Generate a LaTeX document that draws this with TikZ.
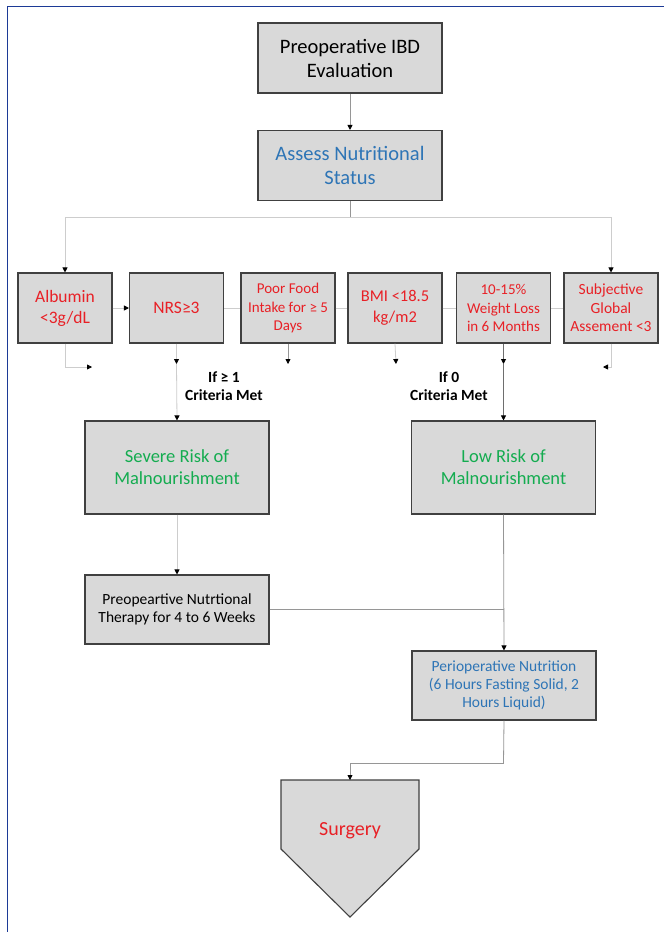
\documentclass[tikz,border=0pt]{standalone}
\usepackage{fontspec}
\setmainfont{Carlito}
\usetikzlibrary{arrows.meta}
\definecolor{boxfill}{RGB}{217,217,217}
\definecolor{boxdraw}{RGB}{64,64,64}
\definecolor{tred}{RGB}{232,32,38}
\definecolor{tblue}{RGB}{46,117,182}
\definecolor{tgreen}{RGB}{20,172,80}
\definecolor{frameblue}{RGB}{28,58,150}
\definecolor{lline}{RGB}{205,205,205}
\definecolor{mline}{RGB}{150,150,150}
\definecolor{dline}{RGB}{110,110,110}
\begin{document}
\begin{tikzpicture}[x=1pt,y=-1pt,
  box/.style={draw=boxdraw,fill=boxfill,line width=1.1pt,inner sep=0pt,align=center},
  bigbox/.style={box,minimum width=184pt,minimum height=70pt,font=\fontsize{20.5}{24}\selectfont},
  critbox/.style={box,minimum width=94pt,minimum height=70pt,text=tred,font=\fontsize{15}{18.5}\selectfont},
  critbig/.style={critbox,font=\fontsize{17.5}{21}\selectfont},
  riskbox/.style={box,minimum width=184pt,minimum height=93pt,text=tgreen,font=\fontsize{18.5}{22}\selectfont},
  stepbox/.style={box,minimum width=184pt,minimum height=69pt,font=\fontsize{15.5}{18.3}\selectfont},
  lbl/.style={font=\bfseries\fontsize{15.5}{18}\selectfont,align=center,inner sep=0pt},
  tip/.style={-{Triangle[length=5pt,width=5pt,color=black]}},
  light/.style={draw=lline,line width=0.8pt},
  mid/.style={draw=mline,line width=0.8pt},
  dark/.style={draw=dline,line width=0.9pt}]
\useasboundingbox (0,0) rectangle (664,932);
\fill[white] (0,0) rectangle (664,932);
\draw[frameblue,line width=1.5pt] (7.5,932) -- (7.5,6.5) -- (664,6.5);

% main boxes
\node[bigbox] (eval) at (350,58) {Preoperative IBD\\Evaluation};
\node[bigbox,text=tblue] (assess) at (350,165.5) {Assess Nutritional\\Status};

% criteria
\node[critbig] (alb) at (65,308) {Albumin\\<3g/dL};
\node[critbig] (nrs) at (176.5,308) {NRS≥3};
\node[critbox] (food) at (288,308) {Poor Food\\Intake for ≥ 5\\Days};
\node[critbox,font=\fontsize{16.5}{21}\selectfont] (bmi) at (395,308) {BMI <18.5\\kg/m2};
\node[critbox] (wl) at (503.5,308) {10-15\%\\Weight Loss\\in 6 Months};
\node[critbox,font=\fontsize{15.5}{18.5}\selectfont] (sga) at (611,308) {Subjective\\Global\\Assement <3};

% risk boxes
\node[riskbox] (severe) at (177,467.5) {Severe Risk of\\Malnourishment};
\node[riskbox] (low) at (503.5,467.5) {Low Risk of\\Malnourishment};

\node[stepbox] (therapy) at (177,609.5) {Preopeartive Nutrtional\\Therapy for 4 to 6 Weeks};
\node[stepbox,text=tblue] (periop) at (504,685.5) {Perioperative Nutrition\\(6 Hours Fasting Solid, 2\\Hours Liquid)};

% surgery pentagon
\coordinate (stop) at (350,780);
\draw[draw=boxdraw,fill=boxfill,line width=1.1pt] (281,780) -- (419,780) -- (419,849) -- (350,917) -- (281,849) -- cycle;
\node[text=tred,font=\fontsize{20}{24}\selectfont,inner sep=0pt] (surgery) at (350,831) {Surgery};

% labels
\node[lbl] (lab1) at (224,386.5) {If ≥ 1\\Criteria Met};
\node[lbl] (lab0) at (449,386.5) {If 0\\Criteria Met};

% connectors top
\draw[mid,tip] (eval.south) -- (assess.north);
\coordinate (bar) at (350,217);
\coordinate (barL) at (65,217);
\coordinate (barR) at (611,217);
\draw[mid] (assess.south) -- (bar);
\draw[light] (barL) -- (barR);
\draw[light,tip] (barL) -- (alb.north);
\draw[light,tip] (barR) -- (sga.north);

% faint links through criteria row
\draw[light,tip] (alb.east) -- (nrs.west);
\draw[light] (nrs.east) -- (food.west);
\draw[light] (food.east) -- (bmi.west);
\draw[light] (bmi.east) -- (wl.west);
\draw[light] (wl.east) -- (sga.west);

% below criteria
\coordinate (albend) at (92,367);
\draw[light,tip] (alb.south) |- (albend);
\coordinate (sgaend) at (603,367);
\draw[light,tip] (sga.south) |- (sgaend);
\coordinate (nrsmid) at (176.5,364);
\draw[light,tip] (nrs.south) -- (nrsmid);
\draw[light,tip] (nrsmid) -- (severe.north);
\coordinate (foodend) at (288,364);
\draw[mid,tip] (food.south) -- (foodend);
\coordinate (bmiend) at (396,364);
\draw[light,tip] (bmi.south) -- (bmiend);
\coordinate (wlmid) at (503.5,364);
\draw[dark,tip] (wl.south) -- (wlmid);
\draw[dark,tip] (wlmid) -- (low.north);

% lower flow
\draw[light,tip] (severe.south) -- (therapy.north);
\coordinate (join) at (503.5,609.5);
\draw[mid] (therapy.east) -- (join);
\draw[mid,tip] (low.south) -- (periop.north);
\coordinate (turn) at (503.5,763);
\draw[mid] (periop.south) -- (turn);
\draw[mid,tip] (turn) -| (stop);
\end{tikzpicture}
\end{document}
